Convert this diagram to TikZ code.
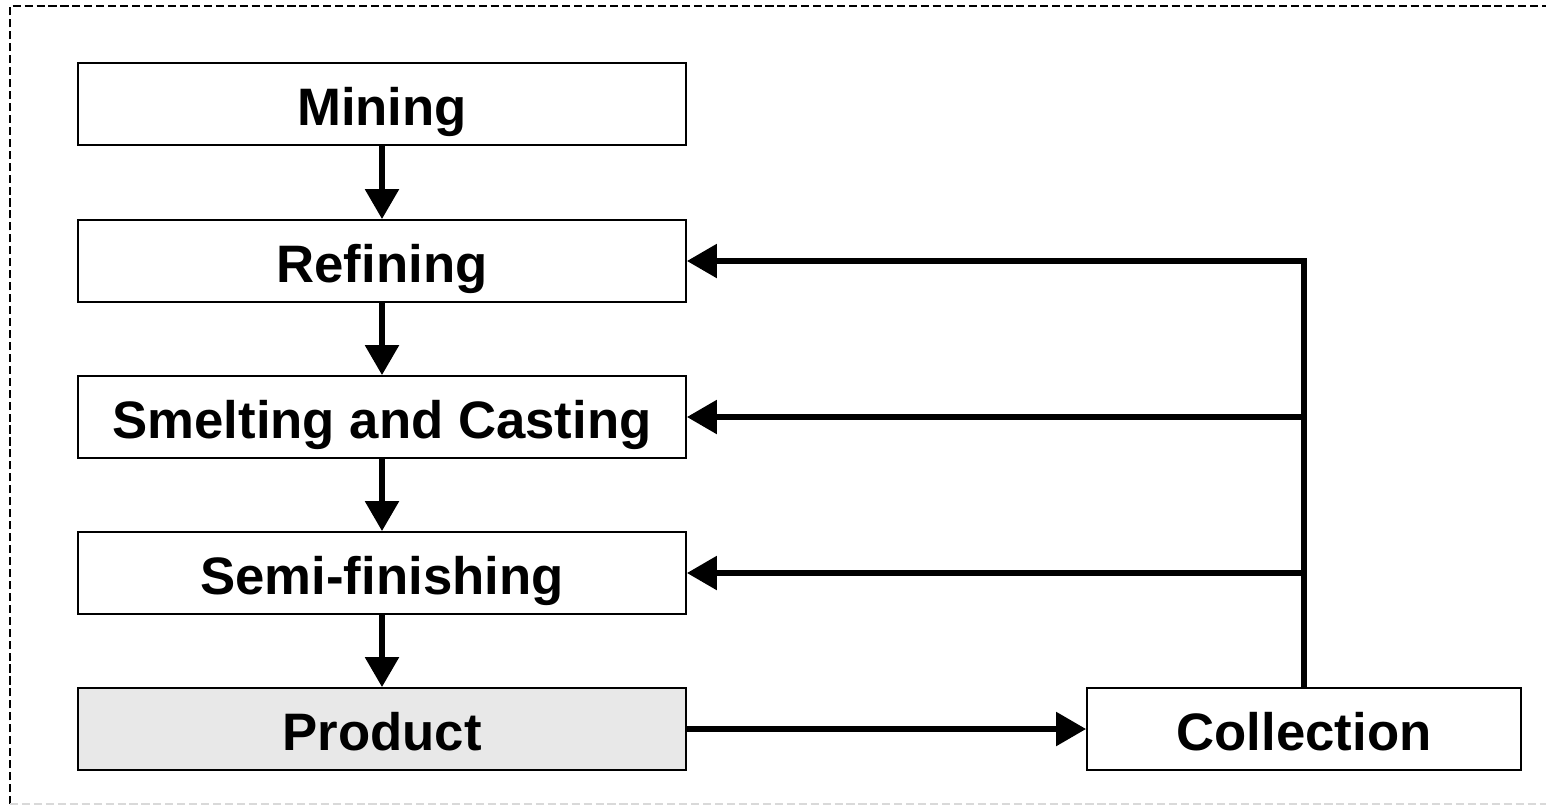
\documentclass[tikz,border=0pt]{standalone}
\usepackage{fontspec}
\setmainfont{Liberation Sans}
\usetikzlibrary{arrows.meta,positioning}

\tikzset{
  stage/.style={draw, line width=0.55pt, minimum width=6.08cm, minimum height=0.82cm,
                inner sep=0pt, text height=0.52cm, text depth=0.10cm,
                font=\fontsize{15}{18}\selectfont\bfseries},
  flow/.style={line width=1.5pt, -{Triangle[length=8.5pt,width=9.4pt]}},
  frame/.style={line width=0.4pt, dash pattern=on 2.3pt off 1.1pt}
}

\begin{document}
\begin{tikzpicture}
  \useasboundingbox (0,0) rectangle (15.46,-8.07);
  % outer frame
  \draw[frame] (0.10,-8.04) -- (0.10,-0.06) -- (15.46,-0.06);
  \draw[frame, black!15] (0.10,-8.04) -- (15.46,-8.04);

  % process chain
  \node[stage] (mining) at (3.82,-1.04) {Mining};
  \node[stage] (refining) at (3.82,-2.61) {Refining};
  \node[stage] (smelting) at (3.82,-4.17) {Smelting and Casting};
  \node[stage] (semi) at (3.82,-5.73) {Semi-finishing};
  \node[stage, fill=black!9] (product) at (3.82,-7.29) {Product};
  \node[stage, minimum width=4.34cm] (collection) at (13.04,-7.29) {Collection};

  \draw[flow] (mining) -- (refining);
  \draw[flow] (refining) -- (smelting);
  \draw[flow] (smelting) -- (semi);
  \draw[flow] (semi) -- (product);
  \draw[flow] (product) -- (collection);

  % recycling back into the chain
  \draw[flow] (collection.north) |- (refining.east);
  \draw[flow] (collection.north |- smelting.east) -- (smelting.east);
  \draw[flow] (collection.north |- semi.east) -- (semi.east);
\end{tikzpicture}
\end{document}
